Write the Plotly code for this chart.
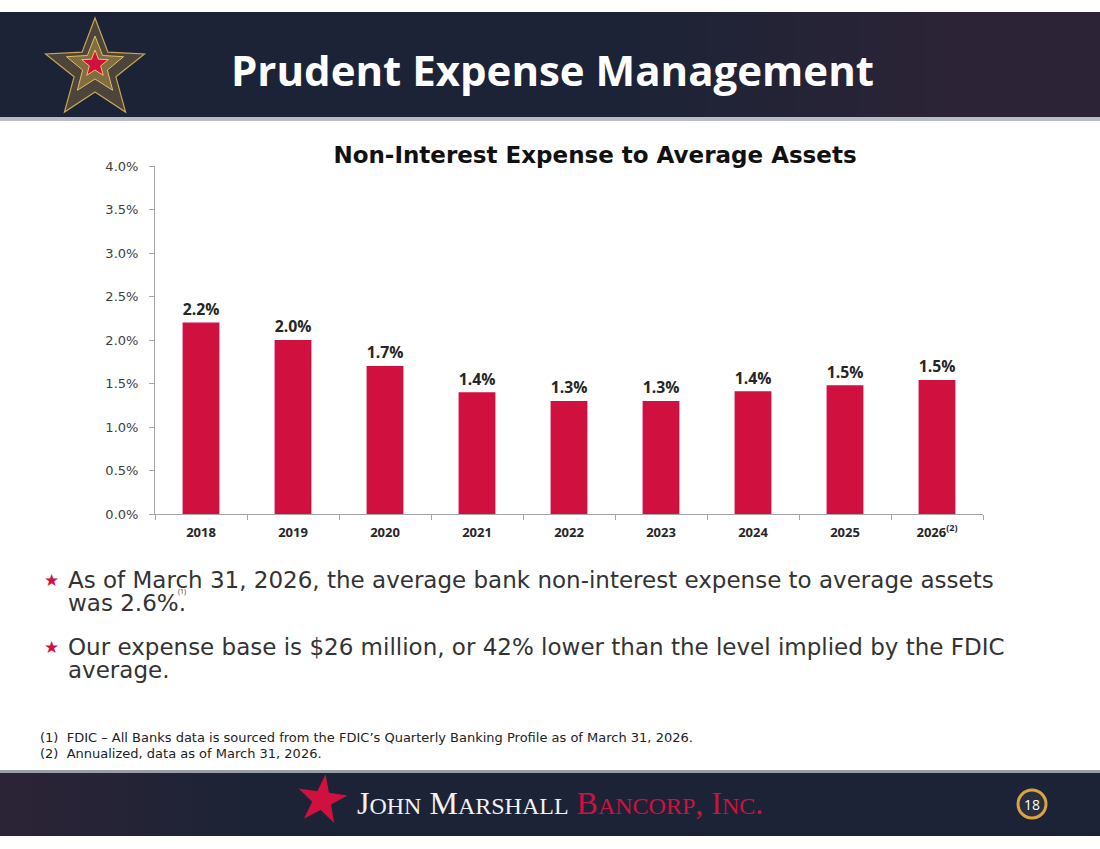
import numpy as np
import plotly.graph_objects as go

years = ["2018", "2019", "2020", "2021", "2022", "2023", "2024", "2025", "2026"]
tick_labels = ["2018", "2019", "2020", "2021", "2022", "2023", "2024", "2025", "2026<sup>(2)</sup>"]
expense_ratio = [2.2, 2.0, 1.7, 1.4, 1.3, 1.3, 1.41, 1.48, 1.54]
y_ticks = [0.0, 0.5, 1.0, 1.5, 2.0, 2.5, 3.0, 3.5, 4.0]

W, H = 1100, 849
L, R, T, B = 155, 983, 166, 514
FONT = "Open Sans"
WIDE = "DejaVu Sans"
RED = "#D0103F"
NAVY = "#1d2336"


def px(x):
    return (x - L) / (R - L)


def py(y):
    return (B - y) / (B - T)


def star_path(cx, cy, r_out, r_in, rot=0.0):
    pts = []
    for i in range(10):
        ang = np.deg2rad(-90 + rot + i * 36)
        r = r_out if i % 2 == 0 else r_in
        pts.append((px(cx + r * np.cos(ang)), py(cy + r * np.sin(ang))))
    return "M " + " L ".join(f"{a:.5f},{b:.5f}" for a, b in pts) + " Z"


fig = go.Figure()
fig.add_trace(go.Bar(
    x=years, y=expense_ratio,
    marker=dict(color=RED, line=dict(width=0)),
    text=expense_ratio, texttemplate="<b>%{y:.1f}%</b>", textposition="outside",
    textfont=dict(family=FONT, size=17, color="#262626"),
    cliponaxis=False, hoverinfo="skip",
))

shapes = []
# header band
shapes.append(dict(type="rect", xref="paper", yref="paper", x0=px(0), x1=px(W), y0=py(118), y1=py(12),
                   fillcolor=NAVY, line=dict(width=0), layer="below"))
# soft gold sheen on the right of the header (nested rects -> smooth gradient)
for i in range(16):
    x0 = 640 + i * 22
    shapes.append(dict(type="rect", xref="paper", yref="paper", x0=px(x0), x1=px(W),
                       y0=py(118), y1=py(12), fillcolor="rgba(200,170,90,0.007)",
                       line=dict(width=0), layer="below"))
shapes.append(dict(type="rect", xref="paper", yref="paper", x0=px(0), x1=px(W), y0=py(121), y1=py(117),
                   fillcolor="#b9bcc4", line=dict(width=0), layer="below"))
# footer band
shapes.append(dict(type="rect", xref="paper", yref="paper", x0=px(0), x1=px(W), y0=py(836), y1=py(772),
                   fillcolor=NAVY, line=dict(width=0), layer="below"))
for i in range(14):
    x1 = 240 - i * 16
    shapes.append(dict(type="rect", xref="paper", yref="paper", x0=px(0), x1=px(x1),
                       y0=py(836), y1=py(772), fillcolor="rgba(200,170,90,0.009)",
                       line=dict(width=0), layer="below"))
shapes.append(dict(type="rect", xref="paper", yref="paper", x0=px(0), x1=px(W), y0=py(773), y1=py(770),
                   fillcolor="#9a9ea8", line=dict(width=0), layer="below"))
# header logo star
shapes.append(dict(type="path", xref="paper", yref="paper", path=star_path(95, 70, 52, 22),
                   fillcolor="rgba(190,150,70,0.30)", line=dict(color="#c9a45a", width=1.2)))
shapes.append(dict(type="path", xref="paper", yref="paper", path=star_path(95, 66, 30, 13),
                   fillcolor="rgba(210,170,80,0.40)", line=dict(color="#e0bd6a", width=1)))
shapes.append(dict(type="path", xref="paper", yref="paper", path=star_path(95, 64, 14, 6),
                   fillcolor=RED, line=dict(color="#f0c060", width=1)))
# footer star
shapes.append(dict(type="path", xref="paper", yref="paper", path=star_path(322, 800, 26, 10, rot=8),
                   fillcolor=RED, line=dict(width=0)))
# page number circle
shapes.append(dict(type="circle", xref="paper", yref="paper", x0=px(1018), x1=px(1046), y0=py(818), y1=py(790),
                   fillcolor="#2a2f3f", line=dict(color="#d9a441", width=3)))

annotations = []
annotations.append(dict(text="<b>Prudent Expense Management</b>", x=px(552), y=py(70), xref="paper", yref="paper",
                        showarrow=False, xanchor="center", yanchor="middle",
                        font=dict(family=FONT, size=42, color="white")))
# bullets
bullets = [
    (580, "As of March 31, 2026, the average bank non-interest expense to average assets", True),
    (603, "was 2.6%.", False),
    (647, "Our expense base is $26 million, or 42% lower than the level implied by the FDIC", True),
    (670, "average.", False),
]
for yy, txt, star in bullets:
    annotations.append(dict(text=txt, x=px(66), y=py(yy), xref="paper", yref="paper", showarrow=False,
                            xanchor="left", yanchor="middle", font=dict(family=WIDE, size=23, color="#333333")))
    if star:
        annotations.append(dict(text="★", x=px(61), y=py(yy), xref="paper", yref="paper", showarrow=False,
                                xanchor="right", yanchor="middle", font=dict(family="DejaVu Sans", size=17, color=RED)))
annotations.append(dict(text="(1)", x=px(182), y=py(591), xref="paper", yref="paper", showarrow=False,
                        xanchor="center", yanchor="middle", font=dict(family=FONT, size=7, color="#333333")))
# footnotes
for yy, txt in [(737, "(1)  FDIC \u2013 All Banks data is sourced from the FDIC\u2019s Quarterly Banking Profile as of March 31, 2026."),
                (753, "(2)  Annualized, data as of March 31, 2026.")]:
    annotations.append(dict(text=txt, x=px(38), y=py(yy), xref="paper", yref="paper", showarrow=False,
                            xanchor="left", yanchor="middle", font=dict(family=WIDE, size=13, color="#222222")))
# footer text
annotations.append(dict(
    text="J<span style='font-size:24px'>OHN</span> M<span style='font-size:24px'>ARSHALL</span> "
         "<span style='color:#D0103F'>B<span style='font-size:24px'>ANCORP</span>, I<span style='font-size:24px'>NC</span>.</span>",
    x=px(355), y=py(803), xref="paper", yref="paper", showarrow=False, xanchor="left", yanchor="middle",
    font=dict(family="Liberation Serif", size=32, color="#f2f2f2")))
annotations.append(dict(text="18", x=px(1032), y=py(804), xref="paper", yref="paper", showarrow=False,
                        xanchor="center", yanchor="middle", font=dict(family=FONT, size=14, color="white")))

fig.update_layout(
    width=W, height=H,
    margin=dict(l=L, r=W - R, t=T, b=H - B),
    paper_bgcolor="white", plot_bgcolor="white",
    bargap=0.6, showlegend=False,
    title=dict(text="<b>Non-Interest Expense to Average Assets</b>", x=595 / W, xanchor="center",
               y=1 - 155 / H, yanchor="middle", font=dict(family=WIDE, size=23, color="#111111")),
    shapes=shapes, annotations=annotations,
)
fig.update_yaxes(range=[0, 4], tickvals=y_ticks, ticktext=[f"{v:.1f}%" for v in y_ticks],
                 showgrid=False, zeroline=False, showline=True, linecolor="#a6a6a6", linewidth=1,
                 ticks="outside", ticklen=5, tickcolor="#a6a6a6", ticklabelstandoff=8,
                 tickfont=dict(family=WIDE, size=13, color="#404040"), fixedrange=True)
fig.update_xaxes(tickvals=years, ticktext=[f"<b>{t}</b>" for t in tick_labels], showgrid=False, showline=True,
                 linecolor="#a6a6a6", linewidth=1, ticks="outside", ticklen=5, tickcolor="#a6a6a6",
                 tickson="boundaries", ticklabelstandoff=6,
                 tickfont=dict(family=FONT, size=13, color="#262626"), fixedrange=True)

fig.write_html("out.html")
